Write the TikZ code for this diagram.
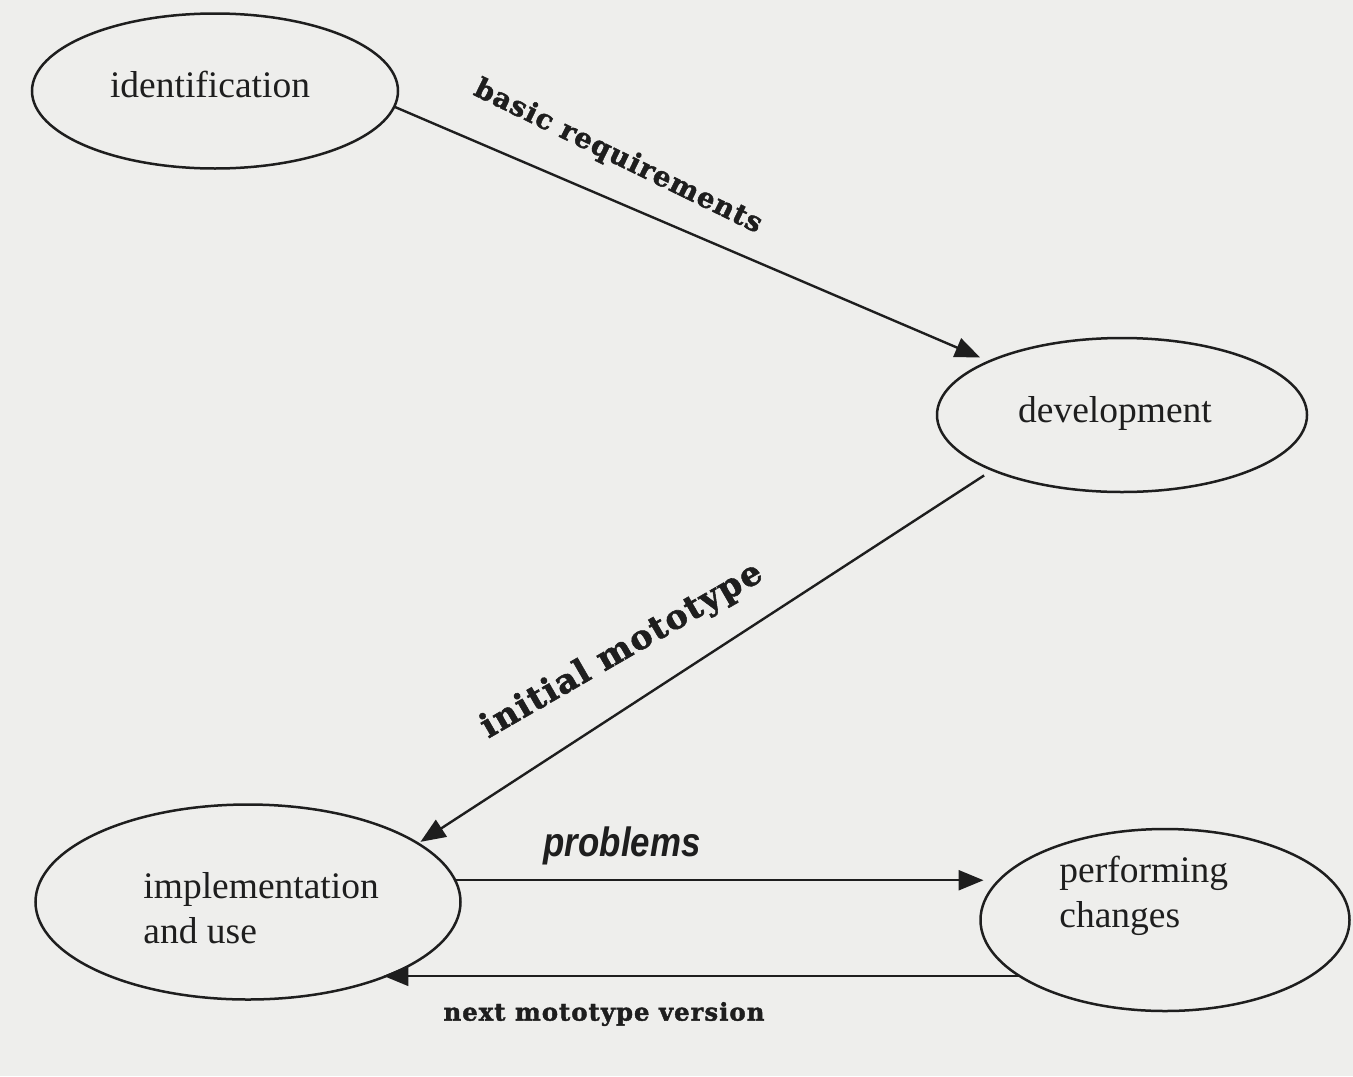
\documentclass[tikz,border=0pt]{standalone}
\usepackage{fontspec}
\setmainfont{Liberation Serif}
\newfontfamily\slabfont{DejaVu Serif}[BoldFeatures={FakeBold=1.6}, LetterSpace=4]
\newfontfamily\sansit{Liberation Sans}
\usetikzlibrary{shapes.geometric,arrows.meta,calc}
\definecolor{paper}{RGB}{238,238,236}
\definecolor{ink}{RGB}{30,30,30}
\def\px{0.5pt}
\tikzset{
  ell/.style={draw=ink, line width=1.25pt, ellipse, inner sep=0pt, outer sep=0pt},
  nodetext/.style={text=ink, inner sep=0pt, font=\fontsize{18.75}{22.5}\selectfont},
  conn/.style={draw=ink, line width=1.2pt, -{Triangle[length=12.5pt,width=10pt]}},
  slablab/.style={text=ink, inner sep=0pt},
  itlab/.style={text=ink, inner sep=0pt, font=\sansit\bfseries\itshape\fontsize{20.5}{23}\selectfont}
}
\begin{document}
\begin{tikzpicture}[x=0.5pt,y=-0.5pt]
\useasboundingbox[fill=paper] (0,0) rectangle (1353,1076);
% ellipses
\node[ell, minimum width=366*\px, minimum height=155*\px] (id) at (215,91) {};
\node[ell, minimum width=370*\px, minimum height=154*\px] (dev) at (1122,415) {};
\node[ell, minimum width=425*\px, minimum height=195*\px] (impl) at (248,902) {};
\node[ell, minimum width=369*\px, minimum height=182*\px] (perf) at (1165,920) {};
% texts
\node[nodetext, anchor=base] (idt) at (210,97) {identification};
\node[nodetext, anchor=base] (devt) at (1115,422) {development};
\node[nodetext, anchor=west, align=left] (implt) at (143,908) {implementation\\and use};
\node[nodetext, anchor=west, align=left] (perft) at (1059,896) {performing\\changes};
% connectors
\draw[conn, shorten >=5pt] (id.-5) -- (dev.158);
\draw[conn, shorten <=5pt, shorten >=1.5pt] (dev.203.6) -- (impl.19);
\coordinate (ptip) at ($(impl.6 -| perf.west)+(3,0)$);
\draw[conn] (impl.6) -- (ptip);
\coordinate (ntip) at (perf.201 -| impl.-29);
\draw[conn] (perf.201) -- (ntip);
% labels
\node[slablab, rotate=-26, font=\slabfont\bfseries\fontsize{13.8}{16}\selectfont] (lbasic) at (618,157) {basic requirements};
\node[slablab, rotate=30, font=\slabfont\bfseries\fontsize{16.8}{20}\selectfont] (linit) at (622,651) {initial mototype};
\node[itlab] (lprob) at (622,846) {\scalebox{0.85}[1]{problems}};
\node[slablab, font=\slabfont\bfseries\fontsize{12.2}{14}\selectfont] (lnext) at (604,1014) {next mototype version};
\end{tikzpicture}
\end{document}
